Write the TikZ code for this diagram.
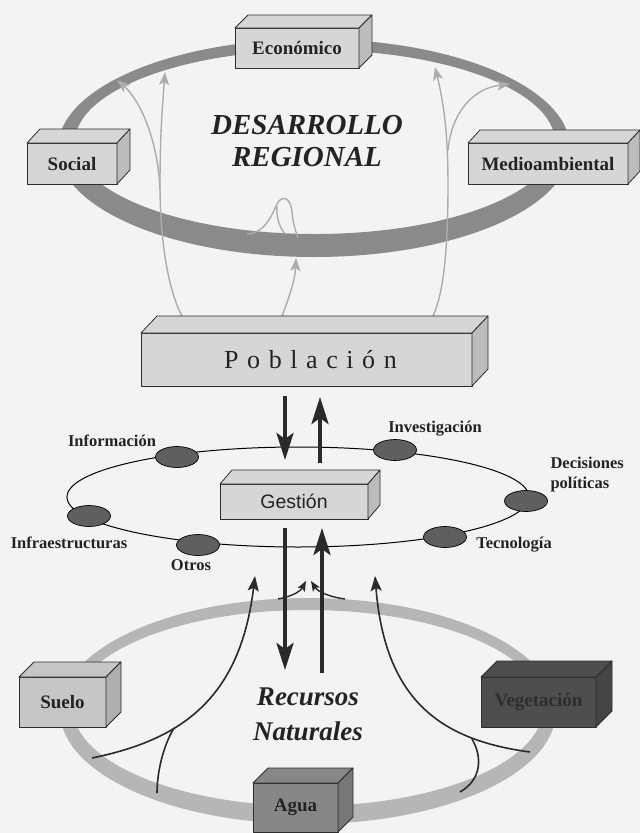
\documentclass[tikz,border=0pt]{standalone}
\usepackage{fontspec}
\setmainfont{Liberation Serif}
\newfontfamily\sansf{Liberation Sans}
\newfontfamily\spacedf[LetterSpace=33]{Liberation Serif}
\usetikzlibrary{arrows.meta,shapes.geometric,calc}

\definecolor{bg}{RGB}{243,243,243}
\definecolor{ringtop}{RGB}{138,138,138}
\definecolor{ringbot}{RGB}{182,182,182}
\definecolor{boxlight}{RGB}{214,214,214}
\definecolor{suelofill}{RGB}{198,198,198}
\definecolor{aguafill}{RGB}{135,135,135}
\definecolor{vegfill}{RGB}{78,78,78}
\definecolor{vegtxt}{RGB}{45,45,45}
\definecolor{ovalfill}{RGB}{95,95,95}
\definecolor{greyln}{RGB}{172,172,172}
\definecolor{darkln}{RGB}{42,42,42}
\definecolor{edge}{RGB}{45,45,45}
\definecolor{txt}{RGB}{35,35,35}

\newcommand{\boxfont}{\fontsize{19}{22}\selectfont\bfseries}
\newcommand{\lblfont}{\fontsize{16.5}{20}\selectfont\bfseries}

% #1 name, #2 centre of front face, #3 width, #4 height, #5 depth offset, #6 fill, #7 text
\newcommand{\cuboid}[7]{%
  \node[boxface, fill=#6, minimum width=#3pt, minimum height=#4pt] (#1) at #2 {#7};
  \draw[boxedge, fill=#6] (#1.north west) -- ++#5 -- ($(#1.north east)+#5$) -- (#1.north east) -- cycle;
  \draw[boxedge, fill=#6!88!black] (#1.north east) -- ++#5 -- ($(#1.south east)+#5$) -- (#1.south east) -- cycle;
}

\tikzset{
  boxedge/.style={draw=edge, line width=0.8pt, line join=round},
  boxface/.style={boxedge, rectangle, inner sep=0pt, outer sep=0pt, font=\boxfont, text=txt},
  titletext/.style={font=\fontsize{29}{32}\selectfont\bfseries\itshape, text=txt, align=center},
  lbl/.style={font=\lblfont, text=txt},
  oval/.style={ellipse, draw=black, line width=0.7pt, fill=ovalfill, minimum width=43pt, minimum height=21pt, inner sep=0pt},
  bigarrow/.style={line width=4pt, draw=darkln, -{Stealth[length=27pt,width=17pt,inset=6pt]}},
  greyline/.style={line width=1.4pt, draw=greyln},
  greyarrow/.style={greyline, -{Stealth[length=13pt,width=10pt,inset=3pt]}},
  darkcurve/.style={line width=1.6pt, draw=darkln},
  darkarrow/.style={darkcurve, -{Stealth[length=15pt,width=11pt,inset=3pt]}},
  smallarrow/.style={line width=1.4pt, draw=darkln, -{Stealth[length=10pt,width=8pt,inset=2pt]}},
}

\begin{document}
\begin{tikzpicture}[x=1pt,y=-1pt]
\useasboundingbox[fill=bg] (0,0) rectangle (640,833);

% ---------- upper ring ----------
\fill[ringtop, even odd rule] (314,148) ellipse [x radius=256pt, y radius=109pt]
                              (315,142) ellipse [x radius=240pt, y radius=92pt];

% grey arrows from Poblacion
\draw[greyarrow] (182,316) .. controls (168,290) and (160,240) .. (160,185) .. controls (160,130) and (163,100) .. (165,72);
\draw[greyarrow] (160,190) .. controls (158,140) and (140,100) .. (117,80);
\draw[greyarrow] (282,316) .. controls (290,295) and (295,280) .. (296,258);
\draw[greyline] (247,234) .. controls (266,233) and (272,214) .. (277,204) .. controls (282,194) and (291,198) .. (292,212) .. controls (293,224) and (296,232) .. (298,238);
\draw[greyline] (277,206) .. controls (276,218) and (280,228) .. (285,234);
\draw[greyarrow] (433,316) .. controls (445,290) and (448,240) .. (448,185) .. controls (448,130) and (443,100) .. (435,67);
\draw[greyarrow] (448,150) .. controls (452,110) and (475,88) .. (510,84);

% boxes of the upper ring
\cuboid{eco}{(297,48)}{124}{40}{(13,-13)}{boxlight}{Económico}
\cuboid{soc}{(72,163.5)}{90}{41}{(13,-14)}{boxlight}{Social}
\cuboid{med}{(548,163.5)}{160}{41}{(12,-13)}{boxlight}{Medioambiental}

\node[titletext] (dr) at (307,141) {DESARROLLO\\REGIONAL};

% ---------- Poblacion ----------
\cuboid{pob}{(306.5,359.5)}{331}{53}{(16,-17)}{boxlight}{\spacedf\fontsize{26}{30}\selectfont\mdseries\hspace*{8pt}Población}

% ---------- management ring ----------
\draw[line width=1pt, draw=black] (298,497) ellipse [x radius=231pt, y radius=50pt];
\node[oval] (oinf) at (177,457) {};
\node[oval] (oinv) at (395,450) {};
\node[oval] (odec) at (526,501) {};
\node[oval] (otec) at (445,537) {};
\node[oval] (ootr) at (198,545) {};
\node[oval] (oinfra) at (89,516) {};

\node[lbl, anchor=base] (linf) at (112,446) {Información};
\node[lbl, anchor=base] (linv) at (435,432) {Investigación};
\node[lbl, anchor=west, align=left] (ldec) at (547,475) {Decisiones\\políticas};
\node[lbl, anchor=base] (ltec) at (514,548) {Tecnología};
\node[lbl, anchor=base] (lotr) at (191,570) {Otros};
\node[lbl, anchor=base] (linfra) at (69,548) {Infraestructuras};

\cuboid{ges}{(294,501.5)}{148}{35}{(12,-14)}{boxlight}{\sansf\fontsize{19.5}{22}\selectfont\mdseries Gestión}

% thick arrows Poblacion <-> Gestion
\coordinate (d1s) at (285,396); \coordinate (d1e) at (285,460);
\coordinate (u1s) at (320,463); \coordinate (u1e) at (320,397);
\draw[bigarrow] (d1s) -- (d1e);
\draw[bigarrow] (u1s) -- (u1e);

% ---------- lower ring ----------
\fill[ringbot, even odd rule] (308,711) ellipse [x radius=248pt, y radius=113pt]
                              (308,708) ellipse [x radius=235pt, y radius=98pt];

% dark curves from the natural resources
\draw[darkarrow] (92,758) .. controls (180,740) and (240,700) .. (255,576);
\draw[darkcurve] (174,728) .. controls (162,748) and (157,775) .. (157,793);
\draw[darkarrow] (530,752) .. controls (440,740) and (385,700) .. (375,576);
\draw[darkcurve] (472,739) .. controls (483,758) and (481,780) .. (460,792);

% thick arrows Gestion <-> Recursos
\coordinate (d2s) at (285,528); \coordinate (d2e) at (285,670);
\coordinate (u2s) at (322,673); \coordinate (u2e) at (322,528);
\draw[bigarrow] (d2s) -- (d2e);
\draw[bigarrow] (u2s) -- (u2e);

% small converging arrows
\draw[smallarrow] (278,599) .. controls (290,597) and (300,592) .. (306,581);
\draw[smallarrow] (345,599) .. controls (330,597) and (318,592) .. (311,581);

\node[titletext, font=\fontsize{27}{35}\selectfont\bfseries\itshape] (rn) at (308,714) {Recursos\\Naturales};

% boxes of the lower ring
\cuboid{sue}{(62.5,702)}{87}{50}{(15,-15)}{suelofill}{Suelo}
\cuboid{veg}{(538.5,702)}{115}{50}{(16,-16)}{vegfill}{\color{vegtxt}Vegetación}
\cuboid{agu}{(295.5,807.5)}{85}{49}{(15,-15)}{aguafill}{Agua}

\end{tikzpicture}
\end{document}
